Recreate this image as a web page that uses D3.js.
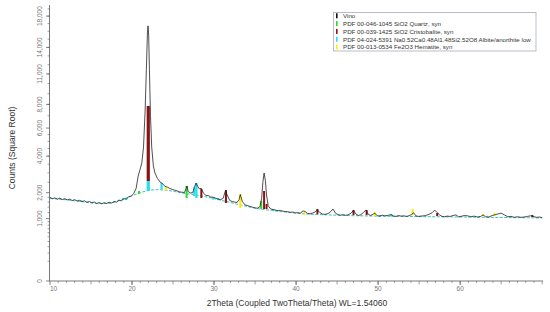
<!DOCTYPE html>
<html>
<head>
<meta charset="utf-8">
<script src="https://cdn.jsdelivr.net/npm/d3@7"></script>
<style>
  body { margin: 0; background: #fff; }
  svg { font-family: "Liberation Sans", Arial, sans-serif; }
</style>
</head>
<body>
<div id="chart"></div>
<script>
// measured trace "Vino" : [2theta, counts]
var vino = [
  [10.0,1790],[10.3,1740],[10.6,1770],[10.9,1720],[11.2,1760],[11.5,1700],[11.8,1740],[12.1,1690],
  [12.4,1720],[12.7,1660],[13.0,1700],[13.3,1640],[13.6,1670],[13.9,1620],[14.2,1650],[14.5,1590],
  [14.8,1620],[15.1,1570],[15.4,1600],[15.7,1540],[16.0,1580],[16.3,1530],[16.6,1575],[16.9,1545],
  [17.2,1590],[17.5,1560],[17.8,1620],[18.1,1600],[18.4,1680],[18.7,1650],[19.0,1740],[19.3,1720],
  [19.6,1820],[19.9,1850],[20.2,1960],[20.5,2200],[20.75,2830],[21.0,3220],[21.2,3600],[21.4,4600],
  [21.6,7500],[21.75,11500],[21.88,15800],[21.95,16700],[22.03,15500],[22.12,11500],[22.25,7000],
  [22.4,4600],[22.6,3400],[22.8,2990],[23.1,2700],[23.4,2520],[23.7,2440],[24.0,2300],[24.3,2260],
  [24.6,2200],[24.9,2150],[25.2,2120],[25.5,2080],[25.8,2040],[26.1,2020],[26.4,2010],[26.6,2200],
  [26.7,2320],[26.85,2050],[27.1,1990],[27.4,2000],[27.6,2250],[27.8,2460],[28.0,2300],[28.2,2180],
  [28.45,2200],[28.7,1980],[29.0,1880],[29.3,1870],[29.6,1810],[29.9,1800],[30.2,1760],[30.5,1720],
  [30.8,1700],[31.1,1750],[31.4,2100],[31.6,1900],[31.9,1670],[32.2,1620],[32.5,1600],[32.8,1580],
  [33.05,1700],[33.2,1920],[33.45,1620],[33.8,1480],[34.1,1460],[34.4,1420],[34.7,1400],[35.0,1370],
  [35.3,1360],[35.6,1420],[35.8,1750],[35.95,2500],[36.1,2990],[36.25,2600],[36.4,1900],[36.6,1450],
  [36.9,1330],[37.2,1310],[37.5,1290],[37.8,1270],[38.1,1280],[38.4,1250],[38.7,1240],[39.0,1230],
  [39.3,1210],[39.6,1220],[39.9,1190],[40.2,1200],[40.5,1180],[40.85,1260],[41.1,1240],[41.4,1170],
  [41.7,1160],[42.0,1180],[42.3,1220],[42.6,1300],[42.9,1200],[43.2,1150],[43.5,1140],[43.8,1160],
  [44.1,1200],[44.5,1330],[44.8,1180],[45.1,1130],[45.4,1110],[45.7,1130],[46.0,1110],[46.3,1120],
  [46.7,1180],[47.0,1280],[47.3,1150],[47.6,1100],[47.9,1130],[48.2,1200],[48.5,1290],[48.8,1140],
  [49.1,1100],[49.6,1180],[49.9,1090],[50.2,1080],[50.5,1110],[50.8,1090],[51.1,1100],[51.6,1130],
  [51.9,1080],[52.2,1070],[52.5,1100],[52.8,1080],[53.1,1090],[53.5,1070],[53.8,1100],[54.1,1130],
  [54.3,1200],[54.6,1090],[54.9,1070],[55.2,1080],[55.5,1090],[55.8,1100],[56.2,1140],[56.6,1200],
  [56.9,1290],[57.2,1200],[57.5,1120],[57.8,1070],[58.1,1060],[58.4,1080],[58.8,1070],[59.1,1100],
  [59.5,1120],[59.8,1060],[60.1,1070],[60.5,1100],[60.9,1090],[61.3,1060],[61.7,1080],[62.1,1050],
  [62.5,1070],[62.8,1120],[63.1,1060],[63.5,1050],[63.9,1100],[64.3,1130],[64.7,1160],[65.0,1180],
  [65.4,1120],[65.8,1060],[66.2,1070],[66.6,1040],[67.0,1060],[67.4,1040],[67.8,1050],[68.2,1070],
  [68.6,1090],[68.9,1070],[69.3,1040],[69.7,1050],[70.0,1030]
];

// fitted background under the trace
var background = [
  [10,1750],[12,1690],[14,1610],[16,1540],[17,1540],[18,1610],[19,1720],[20,1860],[21,2000],
  [22,2100],[23,2140],[24,2120],[25,2070],[26,1990],[27,1940],[28,1890],[29,1820],[30,1740],
  [31,1660],[32,1580],[33,1500],[34,1430],[35,1360],[36,1310],[37,1280],[38,1240],[39,1210],
  [40,1180],[45,1110],[50,1080],[55,1065],[60,1050],[65,1035],[70,1020]
];

// phase sticks : [2theta, low counts, high counts]
var quartz = [[20.85,1950,2080],[26.65,1767,2315],[35.75,1330,1642]];
var cristobalite = [[21.98,2565,7857],[28.45,1767,2172],[31.45,1561,2124],[36.1,1330,2078],[36.4,1330,1521],
  [42.6,1152,1330],[47.0,1117,1294],[48.6,1117,1294],[57.2,1084,1186],[68.8,1050,1120]];
var albite = [[13.8,1600,1660],[18.9,1680,1760],[19.3,1700,1780],[21.98,2078,2565],[23.6,2172,2464],
  [27.6,1850,2250],[27.85,1767,2464],[29.9,1700,1810],[30.5,1680,1760],[37.2,1260,1330],[50.2,1070,1110],[51.6,1070,1150]];
var hematite = [[24.15,2100,2250],[33.2,1367,1941],[41.0,1117,1222],[49.6,1084,1222],[54.2,1117,1330],
  [62.8,1084,1152],[64.2,1084,1186]];

var legendNames = ["Vino", "PDF 00-046-1045 SiO2 Quartz, syn", "PDF 00-039-1425 SiO2 Cristobalite, syn",
  "PDF 04-024-5391 Na0.52Ca0.48Al1.48Si2.52O8 Albite/anorthite low", "PDF 00-013-0534 Fe2O3 Hematite, syn"];
var legendColors = ["#111111", "#22dd22", "#8b1212", "#22e0ee", "#ffee00"];

var yTicks = [0, 1000, 2000, 4000, 6000, 8000, 11000, 14000, 18000];
var xTicks = [10, 20, 30, 40, 50, 60];

var svg = d3.select("#chart").append("svg").attr("width", 550).attr("height", 312);

var x = d3.scaleLinear().domain([10, 70.1]).range([50, 543]);
var y = d3.scaleSqrt().domain([0, 19400]).range([281, 6]);

// y minor ticks
var yMinor = d3.range(100, 1000, 100).concat(d3.range(1200, 2000, 200), d3.range(2500, 6000, 500), d3.range(7000, 19001, 1000));
svg.append("g").selectAll("line").data(yMinor).enter().append("line")
    .attr("x1", 47.5).attr("x2", 49.5).attr("y1", d => y(d)).attr("y2", d => y(d))
    .style("stroke", "#666").style("stroke-width", 0.6);
svg.append("g").selectAll("line").data(yTicks).enter().append("line")
    .attr("x1", 46).attr("x2", 49.5).attr("y1", d => y(d)).attr("y2", d => y(d))
    .style("stroke", "#555").style("stroke-width", 0.7);
svg.append("g").selectAll("text").data(yTicks).enter().append("text")
    .attr("transform", d => "translate(42," + y(d) + ") rotate(-90)")
    .attr("text-anchor", "middle").style("font-size", "6.5px").style("fill", "#777")
    .text(d => d3.format(",")(d));

// x ticks
var xMinor = d3.range(11, 71, 1);
svg.append("g").selectAll("line").data(xMinor).enter().append("line")
    .attr("x1", d => x(d)).attr("x2", d => x(d)).attr("y1", 281).attr("y2", d => d % 5 == 0 ? 284.5 : 283)
    .style("stroke", "#666").style("stroke-width", 0.6);
svg.append("g").selectAll("line").data(xTicks).enter().append("line")
    .attr("x1", d => x(d)).attr("x2", d => x(d)).attr("y1", 281).attr("y2", 285)
    .style("stroke", "#555").style("stroke-width", 0.7);
svg.append("g").selectAll("text").data(xTicks).enter().append("text")
    .attr("x", d => x(d)).attr("y", 291)
    .attr("text-anchor", d => d == 10 ? "start" : "middle")
    .style("font-size", "6.5px").style("fill", "#777").text(d => d);

// axis lines
svg.append("line").attr("x1", 49.5).attr("x2", 49.5).attr("y1", 5).attr("y2", 281).style("stroke", "#555").style("stroke-width", 0.8);
svg.append("line").attr("x1", 49.5).attr("x2", 543).attr("y1", 281).attr("y2", 281).style("stroke", "#555").style("stroke-width", 0.8);

// axis titles
svg.append("text").attr("transform", "translate(15,148) rotate(-90)").attr("text-anchor", "middle")
    .style("font-size", "8.5px").style("fill", "#333").text("Counts (Square Root)");
svg.append("text").attr("x", 297).attr("y", 306).attr("text-anchor", "middle")
    .style("font-size", "8.5px").style("fill", "#333").text("2Theta (Coupled TwoTheta/Theta) WL=1.54060");

// background curve
var line = d3.line().x(d => x(d[0])).y(d => y(d[1])).curve(d3.curveMonotoneX);
svg.append("path").datum(background).attr("d", line)
    .style("fill", "none").style("stroke", "#2ab8b0").style("stroke-width", 0.9).style("stroke-dasharray", "3,1.5");

// phase sticks
var phases = [[quartz, legendColors[1], 2], [cristobalite, legendColors[2], 2], [albite, legendColors[3], 2.2], [hematite, legendColors[4], 2]];
phases.forEach(function(p) {
    svg.append("g").selectAll("rect").data(p[0]).enter().append("rect")
        .attr("x", d => x(d[0]) - (d[0] == 21.98 ? 1.6 : p[2] / 2))
        .attr("width", d => d[0] == 21.98 ? 3.2 : p[2])
        .attr("y", d => y(d[2]))
        .attr("height", d => y(d[1]) - y(d[2]))
        .style("fill", p[1]);
});

// trace
svg.append("path").datum(vino).attr("d", d3.line().x(d => x(d[0])).y(d => y(d[1])))
    .style("fill", "none").style("stroke", "#222").style("stroke-width", 0.8);

// legend
var lg = svg.append("g");
lg.append("rect").attr("x", 333.5).attr("y", 12.5).attr("width", 202.5).attr("height", 38.5)
    .style("fill", "#fff").style("stroke", "#aab").style("stroke-width", 0.8);
legendNames.forEach(function(name, i) {
    var cy = 15.8 + i * 7.8;
    lg.append("rect").attr("x", 336).attr("y", cy - 2.5).attr("width", 1.6).attr("height", 5).style("fill", legendColors[i]);
    lg.append("text").attr("x", 343).attr("y", cy + 2.3).style("font-size", "6.2px").style("fill", "#333").text(name);
});
</script>
</body>
</html>
